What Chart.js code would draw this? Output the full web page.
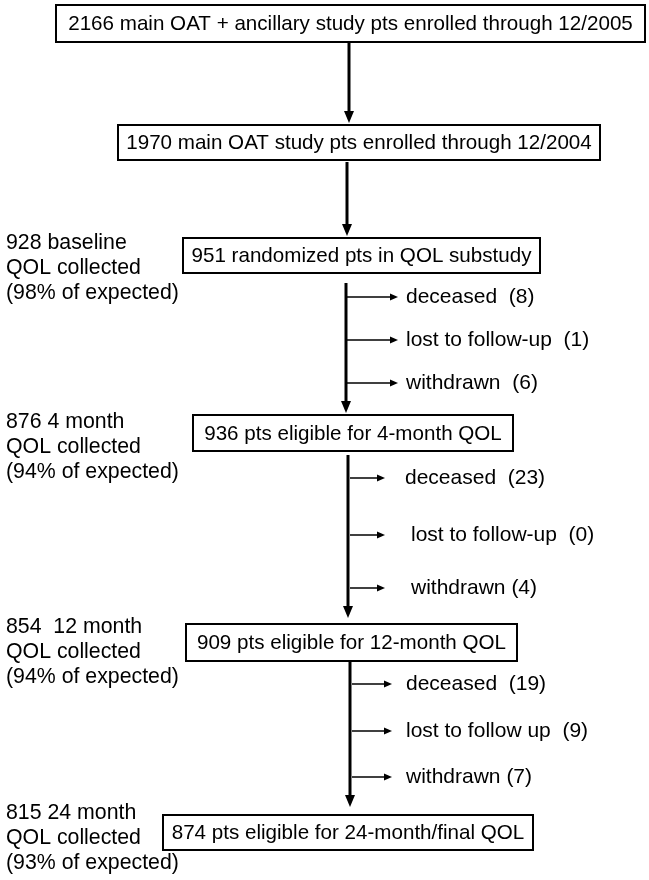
<!DOCTYPE html>
<html lang="en">
<head>
<meta charset="UTF-8" />
<title>QOL substudy flow</title>
<script src="https://cdn.jsdelivr.net/npm/chart.js@4.4.0/dist/chart.umd.min.js"></script>
<style>
  html, body { margin: 0; padding: 0; background: white; }
  #flow { display: block; }
</style>
</head>
<body>
<canvas id="flow" width="649" height="880"></canvas>
<script>
// counts
const stageCounts = [2166, 1970, 951, 936, 909, 874];
const stageText = [
  'main OAT + ancillary study pts enrolled through 12/2005',
  'main OAT study pts enrolled through 12/2004',
  'randomized pts in QOL substudy',
  'pts eligible for 4-month QOL',
  'pts eligible for 12-month QOL',
  'pts eligible for 24-month/final QOL'
];
const qolCollected = [928, 876, 854, 815];
const qolTime = ['baseline', '4 month', ' 12 month', '24 month'];
const qolPct = [98, 94, 94, 93];
const deceased = [8, 23, 19];
const lostFollowUp = [1, 0, 9];
const withdrawn = [6, 4, 7];
const lostText = ['lost to follow-up  ', 'lost to follow-up  ', 'lost to follow up  '];
const withdrawnGap = ['  ', ' ', ' '];

// layout (pixel units of the hidden axes)
const boxes = [
  [56, 645, 5, 42], [118, 600, 125, 160], [183, 540, 238, 273],
  [193, 513, 415, 451], [186, 517, 624, 661], [163, 533, 815, 850]
];
const mainArrows = [
  [349, 43, 123], [347, 162, 236], [346, 283, 413], [348, 455, 618], [350, 662, 807]
];
const sideY = [[297, 340, 383], [478, 535, 588], [684, 731, 777]];
const sideX = [[347, 398, 406], [350, 385, 405], [352, 392, 406]];
const leftY = [243, 422, 627, 813];

const BOX_FONT = '20.6px "Liberation Sans", Arial, sans-serif';
const FONT = '21px "Liberation Sans", Arial, sans-serif';
const LEFT_FONT = '21.3px "Liberation Sans", Arial, sans-serif';

const flowPlugin = {
  id: 'flow',
  afterDraw(chart) {
    const ctx = chart.ctx;
    const xs = chart.scales.x, ys = chart.scales.y;
    const X = v => xs.getPixelForValue(v);
    const Y = v => ys.getPixelForValue(v);
    ctx.save();
    ctx.fillStyle = '#000';
    ctx.strokeStyle = '#000';
    ctx.textBaseline = 'middle';

    function arrow(x1, y1, x2, y2, w, head, hw) {
      ctx.lineWidth = w;
      ctx.beginPath();
      if (x1 === x2) {
        ctx.moveTo(X(x1), Y(y1));
        ctx.lineTo(X(x2), Y(y2) - head + 1);
        ctx.stroke();
        ctx.beginPath();
        ctx.moveTo(X(x2), Y(y2));
        ctx.lineTo(X(x2) - hw, Y(y2) - head);
        ctx.lineTo(X(x2) + hw, Y(y2) - head);
      } else {
        ctx.moveTo(X(x1), Y(y1));
        ctx.lineTo(X(x2) - head + 1, Y(y2));
        ctx.stroke();
        ctx.beginPath();
        ctx.moveTo(X(x2), Y(y2));
        ctx.lineTo(X(x2) - head, Y(y2) - hw);
        ctx.lineTo(X(x2) - head, Y(y2) + hw);
      }
      ctx.closePath();
      ctx.fill();
    }

    // boxes
    ctx.font = BOX_FONT;
    stageCounts.forEach((n, i) => {
      const b = boxes[i];
      ctx.lineWidth = 2;
      ctx.strokeRect(X(b[0]), Y(b[2]), X(b[1]) - X(b[0]), Y(b[3]) - Y(b[2]));
      ctx.textAlign = 'center';
      ctx.fillText(n + ' ' + stageText[i], (X(b[0]) + X(b[1])) / 2, (Y(b[2]) + Y(b[3])) / 2 + 1);
    });

    // main arrows
    mainArrows.forEach(a => arrow(a[0], a[1], a[0], a[2], 3, 12, 5));

    // drop-outs
    ctx.font = FONT;
    ctx.textAlign = 'left';
    deceased.forEach((d, g) => {
      const labels = [
        'deceased  (' + d + ')',
        lostText[g] + '(' + lostFollowUp[g] + ')',
        'withdrawn' + withdrawnGap[g] + '(' + withdrawn[g] + ')'
      ];
      labels.forEach((t, k) => {
        const y = sideY[g][k];
        arrow(sideX[g][0], y, sideX[g][1], y, 1.5, 8, 3.5);
        const tx = (g === 1 && k > 0) ? sideX[g][2] + 6 : sideX[g][2];
        ctx.fillText(t, X(tx), Y(y));
      });
    });

    // QOL collected notes
    ctx.font = LEFT_FONT;
    qolCollected.forEach((n, i) => {
      const lines = [n + ' ' + qolTime[i], 'QOL collected', '(' + qolPct[i] + '% of expected)'];
      lines.forEach((t, k) => ctx.fillText(t, X(6), Y(leftY[i] + 25 * k)));
    });
    ctx.restore();
  }
};

new Chart(document.getElementById('flow'), {
  type: 'scatter',
  data: { datasets: [{ data: boxes.map(b => ({ x: (b[0] + b[1]) / 2, y: (b[2] + b[3]) / 2 })), pointRadius: 0 }] },
  options: {
    responsive: false,
    animation: false,
    events: [],
    layout: { padding: 0 },
    plugins: { legend: { display: false }, tooltip: { enabled: false } },
    scales: {
      x: { type: 'linear', min: 0, max: 649, display: false },
      y: { type: 'linear', min: 0, max: 880, reverse: true, display: false }
    }
  },
  plugins: [flowPlugin]
});
</script>
</body>
</html>
